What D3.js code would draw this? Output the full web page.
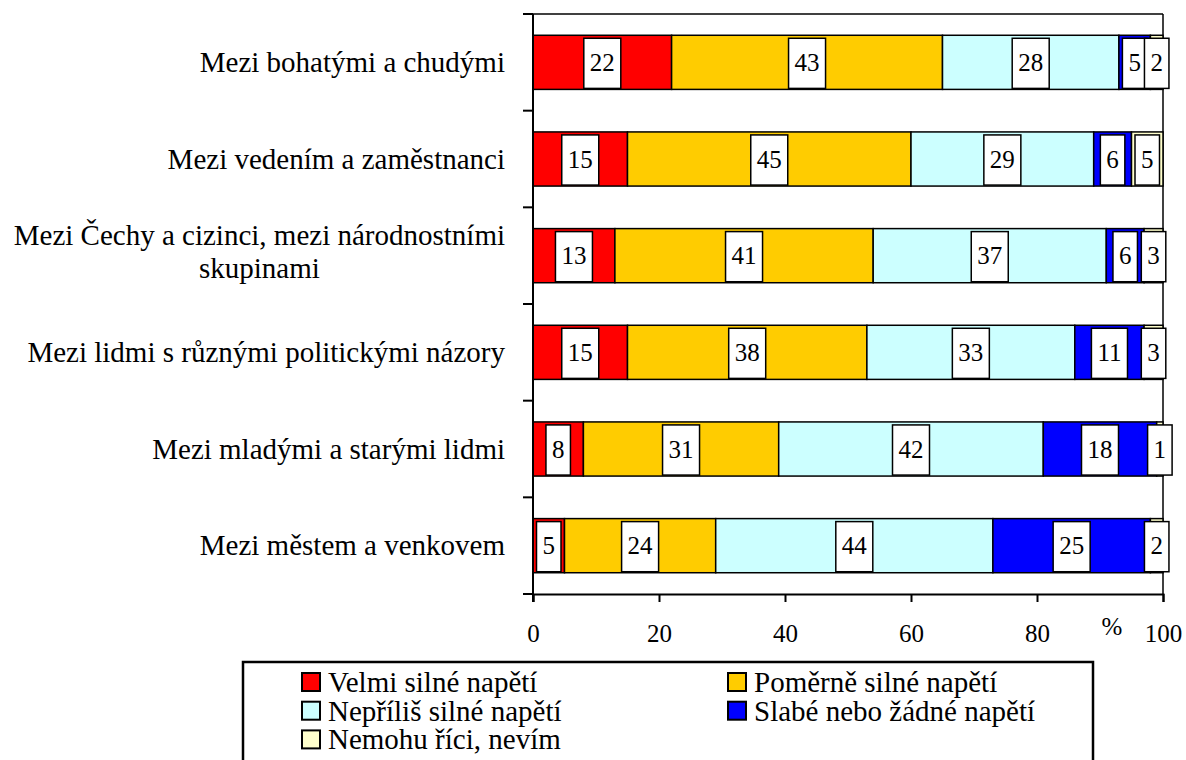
<!DOCTYPE html>
<html>
<head>
<meta charset="utf-8">
<script src="https://cdn.jsdelivr.net/npm/d3@7"></script>
<style>
  body { margin: 0; background: #fff; }
  svg { display: block; }
</style>
</head>
<body>
<div id="viz"></div>
<script>
// categories (top to bottom), "\n" marks a line break in the label
const categories = [
  'Mezi bohatými a chudými',
  'Mezi vedením a zaměstnanci',
  'Mezi Čechy a cizinci, mezi národnostními\nskupinami',
  'Mezi lidmi s různými politickými názory',
  'Mezi mladými a starými lidmi',
  'Mezi městem a venkovem',
];

const seriesNames = [
  'Velmi silné napětí',
  'Poměrně silné napětí',
  'Nepříliš silné napětí',
  'Slabé nebo žádné napětí',
  'Nemohu říci, nevím',
];

const seriesColors = ['#ff0000', '#ffcc00', '#ccffff', '#0000ff', '#ffffcc'];

// one array per series, same order as categories
const velmi = [22, 15, 13, 15, 8, 5];
const pomerne = [43, 45, 41, 38, 31, 24];
const neprilis = [28, 29, 37, 33, 42, 44];
const slabe = [5, 6, 6, 11, 18, 25];
const nevim = [2, 5, 3, 3, 1, 2];

const xTicks = [0, 20, 40, 60, 80, 100];

const series = [velmi, pomerne, neprilis, slabe, nevim];

const width = 1186;
const height = 760;
const margin = {left: 533, right: 23, top: 14, bottom: 166};
const font = "'Liberation Serif', Tinos, 'Times New Roman', 'DejaVu Serif', serif";

const svg = d3.select('#viz').append('svg')
  .attr('width', width)
  .attr('height', height)
  .style('font-family', font);

const x = d3.scaleLinear()
  .domain([0, 100])
  .range([margin.left, width - margin.right]);

const y = d3.scaleBand()
  .domain(categories)
  .range([margin.top, height - margin.bottom])
  .paddingInner(0.44)
  .paddingOuter(0.22);

// stack the rows
const rows = categories.map((c, i) => {
  let acc = 0;
  return series.map((s, k) => {
    const seg = {cat: c, k, value: s[i], x0: acc, x1: acc + s[i]};
    acc += s[i];
    return seg;
  });
});

// plot frame: top and right line
svg.append('line')
  .attr('x1', x(0)).attr('x2', x(100))
  .attr('y1', margin.top).attr('y2', margin.top)
  .style('stroke', '#000').style('stroke-width', 1.5);
svg.append('line')
  .attr('x1', x(100)).attr('x2', x(100))
  .attr('y1', margin.top).attr('y2', height - margin.bottom)
  .style('stroke', '#000').style('stroke-width', 1.5);

// bars
const rowG = svg.append('g').selectAll('g')
  .data(rows)
  .join('g');

rowG.selectAll('rect.seg')
  .data(d => d)
  .join('rect')
  .attr('class', 'seg')
  .attr('x', d => x(d.x0))
  .attr('y', d => y(d.cat))
  .attr('width', d => x(d.x1) - x(d.x0))
  .attr('height', y.bandwidth())
  .style('fill', d => seriesColors[d.k])
  .style('stroke', '#000')
  .style('stroke-width', 1.5);

// value labels in white boxes
const labelSize = 25;
const labels = svg.append('g').selectAll('g')
  .data(rows.flat())
  .join('g');

labels.each(function(d) {
  const g = d3.select(this);
  const cx = x((d.x0 + d.x1) / 2);
  const cy = y(d.cat) + y.bandwidth() / 2;
  const rect = g.append('rect');
  const t = g.append('text')
    .attr('x', cx)
    .attr('y', cy + 8.5)
    .attr('text-anchor', 'middle')
    .style('font-family', font)
    .style('font-size', labelSize + 'px')
    .text(d.value);
  const w = t.node().getComputedTextLength() + 12;
  rect
    .attr('x', cx - w / 2)
    .attr('y', y(d.cat) + 3)
    .attr('width', w)
    .attr('height', y.bandwidth() - 4)
    .style('fill', '#fff')
    .style('stroke', '#000')
    .style('stroke-width', 1.5);
});

// y axis with ticks between the categories
const step = y.step();
const yAxisG = svg.append('g');
yAxisG.append('line')
  .attr('x1', x(0)).attr('x2', x(0))
  .attr('y1', margin.top).attr('y2', height - margin.bottom + 8)
  .style('stroke', '#000').style('stroke-width', 2);
yAxisG.selectAll('line.tick')
  .data(d3.range(categories.length + 1))
  .join('line')
  .attr('class', 'tick')
  .attr('x1', x(0) - 10).attr('x2', x(0))
  .attr('y1', i => margin.top + i * step)
  .attr('y2', i => margin.top + i * step)
  .style('stroke', '#000').style('stroke-width', 2);

// category labels, multi-line ones centred as a block ending at the axis
const catG = svg.append('g');
categories.forEach(c => {
  const lines = c.split('\n');
  const cy = y(c) + y.bandwidth() / 2;
  const t = catG.append('text')
    .style('font-family', font)
    .style('font-size', '29px');
  lines.forEach((line, i) => {
    t.append('tspan')
      .attr('y', cy + 9.5 - (lines.length - 1) * 20 + i * 33)
      .text(line);
  });
  const spans = t.selectAll('tspan').nodes();
  const maxW = d3.max(spans, s => s.getComputedTextLength());
  const right = x(0) - 28;
  if (lines.length === 1) {
    t.attr('text-anchor', 'end');
    t.selectAll('tspan').attr('x', right);
  } else {
    t.attr('text-anchor', 'middle');
    t.selectAll('tspan').attr('x', right - maxW / 2);
  }
});

// x axis
const xAxis = d3.axisBottom(x)
  .tickValues(xTicks)
  .tickSize(8)
  .tickPadding(22);

const xAxisG = svg.append('g')
  .attr('transform', `translate(0,${height - margin.bottom})`)
  .call(xAxis)
  .attr('font-family', font);
xAxisG.select('.domain').style('stroke-width', 2);
xAxisG.selectAll('.tick line').style('stroke-width', 2);
xAxisG.selectAll('.tick text')
  .style('font-family', font)
  .style('font-size', '25px')
  .attr('dy', '0.71em');

svg.append('text')
  .attr('x', 1112)
  .attr('y', 635)
  .attr('text-anchor', 'middle')
  .style('font-family', font)
  .style('font-size', '25px')
  .text('%');

// legend
const legendG = svg.append('g');
legendG.append('rect')
  .attr('x', 243)
  .attr('y', 662)
  .attr('width', 850)
  .attr('height', 120)
  .style('fill', '#fff')
  .style('stroke', '#000')
  .style('stroke-width', 2.5);

const legendCols = [302, 728];
const legendRow0 = 692;
const legendRowH = 28.7;

const items = legendG.selectAll('g.item')
  .data(seriesNames)
  .join('g')
  .attr('class', 'item')
  .attr('transform', (d, i) =>
    `translate(${legendCols[i % 2]},${legendRow0 + Math.floor(i / 2) * legendRowH})`);

items.append('rect')
  .attr('x', 0)
  .attr('y', -19)
  .attr('width', 18)
  .attr('height', 18)
  .style('fill', (d, i) => seriesColors[i])
  .style('stroke', '#000')
  .style('stroke-width', 2);

items.append('text')
  .attr('x', 26)
  .attr('y', 0)
  .style('font-family', font)
  .style('font-size', '29px')
  .text(d => d);
</script>
</body>
</html>
